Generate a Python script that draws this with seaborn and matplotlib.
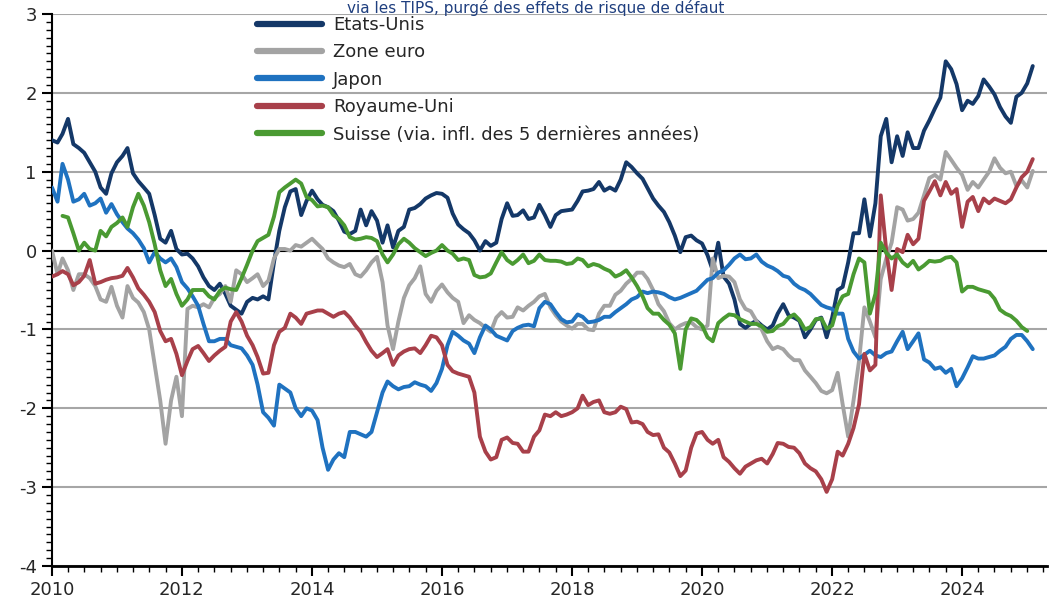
import numpy as np
import pandas as pd
import matplotlib
matplotlib.use('Agg')
import matplotlib.pyplot as plt
import matplotlib.dates as mdates
from matplotlib.ticker import MultipleLocator
import seaborn as sns

nan = np.nan

# monthly points, Jan 2010 -> Feb 2025
dates = pd.date_range('2010-01-01', periods=182, freq='MS')

etats_unis = [
    1.40, 1.37, 1.48, 1.67, 1.35, 1.30, 1.24, 1.12, 1.00, 0.80, 0.72, 0.98,
    1.12, 1.20, 1.30, 0.98, 0.88, 0.80, 0.72, 0.45, 0.15, 0.10, 0.25, 0.02,
    -0.05, -0.04, -0.10, -0.20, -0.34, -0.45, -0.50, -0.42, -0.55, -0.70, -0.75, -0.80,
    -0.65, -0.60, -0.62, -0.58, -0.62, -0.15, 0.25, 0.55, 0.75, 0.78, 0.45, 0.63,
    0.76, 0.65, 0.58, 0.55, 0.50, 0.38, 0.24, 0.21, 0.25, 0.52, 0.32, 0.50,
    0.38, 0.10, 0.32, 0.04, 0.25, 0.30, 0.52, 0.54, 0.59, 0.66, 0.70, 0.73,
    0.72, 0.67, 0.47, 0.33, 0.27, 0.22, 0.13, 0.00, 0.12, 0.06, 0.10, 0.40,
    0.60, 0.44, 0.45, 0.51, 0.40, 0.42, 0.58, 0.45, 0.30, 0.45, 0.50, 0.51,
    0.52, 0.63, 0.75, 0.76, 0.78, 0.87, 0.76, 0.80, 0.76, 0.90, 1.12, 1.06,
    0.98, 0.91, 0.79, 0.66, 0.57, 0.49, 0.36, 0.19, -0.02, 0.17, 0.19, 0.13,
    0.09, -0.06, -0.25, 0.10, -0.33, -0.42, -0.62, -0.93, -0.98, -0.93, -0.89, -0.95,
    -1.00, -0.95, -0.80, -0.68, -0.82, -0.85, -0.89, -1.10, -1.00, -0.88, -0.85, -1.10,
    -0.85, -0.50, -0.46, -0.15, 0.22, 0.22, 0.65, 0.18, 0.60, 1.45, 1.67, 1.12,
    1.45, 1.20, 1.50, 1.30, 1.30, 1.52, 1.65, 1.80, 1.94, 2.40, 2.30, 2.11,
    1.78, 1.90, 1.86, 1.96, 2.17, 2.08, 1.98, 1.82, 1.70, 1.62, 1.95, 2.00,
    2.12, 2.34,
]

zone_euro = [
    0.00, -0.30, -0.10, -0.25, -0.50, -0.30, -0.30, -0.35, -0.45, -0.62, -0.65, -0.46,
    -0.70, -0.85, -0.45, -0.60, -0.66, -0.78, -1.00, -1.45, -1.90, -2.45, -1.90, -1.60,
    -2.10, -0.74, -0.70, -0.72, -0.68, -0.72, -0.60, -0.55, -0.45, -0.65, -0.25, -0.30,
    -0.40, -0.35, -0.30, -0.45, -0.38, -0.10, 0.02, 0.02, 0.00, 0.07, 0.05, 0.10,
    0.15, 0.08, 0.02, -0.10, -0.15, -0.19, -0.21, -0.17, -0.30, -0.33, -0.25, -0.15,
    -0.08, -0.40, -0.95, -1.25, -0.90, -0.60, -0.44, -0.35, -0.20, -0.55, -0.65, -0.51,
    -0.43, -0.53, -0.60, -0.65, -0.92, -0.82, -0.88, -0.92, -0.98, -1.03, -0.85, -0.78,
    -0.85, -0.84, -0.72, -0.76, -0.70, -0.65, -0.58, -0.55, -0.72, -0.82, -0.90, -0.95,
    -0.99, -0.93, -0.93, -1.00, -1.01, -0.80, -0.70, -0.70, -0.56, -0.51, -0.42, -0.36,
    -0.28, -0.28, -0.36, -0.50, -0.68, -0.77, -0.92, -1.00, -0.95, -0.92, -0.91, -0.97,
    -1.00, -0.95, -0.10, -0.35, -0.32, -0.33, -0.40, -0.62, -0.74, -0.77, -0.89, -1.00,
    -1.15, -1.25, -1.22, -1.25, -1.33, -1.39, -1.39, -1.52, -1.60, -1.68, -1.78, -1.81,
    -1.77, -1.55, -1.95, -2.36, -1.90, -1.40, -0.72, -0.90, -1.10, -0.36, -0.10, 0.10,
    0.55, 0.52, 0.38, 0.40, 0.48, 0.70, 0.92, 0.96, 0.90, 1.25, 1.15, 1.05,
    0.96, 0.77, 0.87, 0.80, 0.90, 1.00, 1.17, 1.05, 0.98, 1.00, 0.82, 0.89,
    0.80, 1.01,
]

japon = [
    0.80, 0.62, 1.10, 0.90, 0.62, 0.65, 0.72, 0.57, 0.60, 0.66, 0.48, 0.59,
    0.46, 0.36, 0.28, 0.22, 0.14, 0.03, -0.15, -0.02, -0.10, -0.15, -0.10, -0.21,
    -0.40, -0.48, -0.58, -0.70, -0.93, -1.15, -1.15, -1.12, -1.12, -1.20, -1.22, -1.24,
    -1.33, -1.45, -1.70, -2.05, -2.12, -2.22, -1.70, -1.75, -1.80, -2.00, -2.10, -2.00,
    -2.03, -2.15, -2.50, -2.78, -2.65, -2.57, -2.62, -2.30, -2.30, -2.33, -2.36, -2.30,
    -2.05, -1.80, -1.66, -1.72, -1.76, -1.73, -1.72, -1.67, -1.70, -1.72, -1.78, -1.68,
    -1.50, -1.20, -1.03, -1.08, -1.14, -1.18, -1.30, -1.10, -0.95, -1.00, -1.08, -1.11,
    -1.14, -1.02, -0.98, -0.95, -0.94, -0.96, -0.73, -0.65, -0.68, -0.78, -0.87, -0.91,
    -0.90, -0.81, -0.84, -0.91, -0.90, -0.88, -0.84, -0.84, -0.78, -0.73, -0.68, -0.62,
    -0.59, -0.52, -0.54, -0.52, -0.53, -0.55, -0.59, -0.62, -0.60, -0.57, -0.54, -0.51,
    -0.44, -0.37, -0.35, -0.28, -0.25, -0.18, -0.10, -0.05, -0.11, -0.10, -0.05, -0.14,
    -0.19, -0.22, -0.26, -0.32, -0.34, -0.42, -0.47, -0.50, -0.55, -0.62, -0.69, -0.72,
    -0.74, -0.80, -0.80, -1.12, -1.28, -1.37, -1.32, -1.27, -1.33, -1.35, -1.30, -1.28,
    -1.15, -1.03, -1.25, -1.15, -1.05, -1.38, -1.42, -1.50, -1.48, -1.55, -1.50, -1.72,
    -1.62, -1.48, -1.34, -1.37, -1.37, -1.35, -1.33, -1.27, -1.22, -1.12, -1.07, -1.07,
    -1.15, -1.25,
]

royaume_uni = [
    -0.33, -0.30, -0.26, -0.30, -0.44, -0.40, -0.32, -0.12, -0.42, -0.40, -0.37, -0.35,
    -0.34, -0.32, -0.22, -0.34, -0.48, -0.56, -0.65, -0.78, -1.02, -1.15, -1.12, -1.31,
    -1.58, -1.40, -1.25, -1.21, -1.30, -1.40, -1.33, -1.27, -1.22, -0.90, -0.78, -0.90,
    -1.08, -1.20, -1.35, -1.56, -1.55, -1.20, -1.03, -0.98, -0.80, -0.85, -0.93, -0.80,
    -0.78, -0.76, -0.76, -0.80, -0.84, -0.80, -0.78, -0.85, -0.95, -1.03, -1.16, -1.27,
    -1.35, -1.30, -1.25, -1.45, -1.33, -1.28, -1.25, -1.24, -1.30, -1.20, -1.08, -1.10,
    -1.20, -1.45, -1.53, -1.56, -1.58, -1.60, -1.80, -2.36, -2.55, -2.65, -2.62, -2.40,
    -2.37, -2.44, -2.45, -2.55, -2.55, -2.36, -2.28, -2.08, -2.10, -2.05, -2.10, -2.08,
    -2.05, -2.00, -1.84, -1.96, -1.92, -1.90, -2.05, -2.07, -2.05, -1.98, -2.01, -2.18,
    -2.17, -2.20, -2.30, -2.34, -2.33, -2.50, -2.56, -2.70, -2.86, -2.79, -2.50, -2.32,
    -2.30, -2.40, -2.45, -2.40, -2.62, -2.68, -2.76, -2.83, -2.74, -2.70, -2.66, -2.64,
    -2.70, -2.58, -2.44, -2.45, -2.49, -2.50, -2.57, -2.70, -2.76, -2.80, -2.90, -3.06,
    -2.90, -2.55, -2.60, -2.45, -2.25, -1.95, -1.31, -1.52, -1.45, 0.70, 0.00, -0.50,
    0.02, -0.02, 0.20, 0.08, 0.15, 0.63, 0.75, 0.88, 0.70, 0.87, 0.72, 0.78,
    0.30, 0.62, 0.68, 0.50, 0.66, 0.60, 0.66, 0.63, 0.60, 0.65, 0.80, 0.93,
    1.00, 1.16,
]

suisse = [
    nan, nan, 0.44, 0.42, 0.22, 0.00, 0.10, 0.02, 0.00, 0.25, 0.18, 0.30,
    0.35, 0.42, 0.30, 0.55, 0.72, 0.57, 0.36, 0.08, -0.25, -0.45, -0.36, -0.55,
    -0.70, -0.62, -0.50, -0.50, -0.50, -0.58, -0.62, -0.51, -0.47, -0.49, -0.50, -0.35,
    -0.18, 0.00, 0.12, 0.16, 0.20, 0.43, 0.74, 0.80, 0.85, 0.90, 0.85, 0.68,
    0.64, 0.56, 0.57, 0.55, 0.45, 0.40, 0.32, 0.17, 0.14, 0.15, 0.17, 0.16,
    0.12, -0.05, -0.15, -0.05, 0.08, 0.15, 0.10, 0.03, -0.02, -0.07, -0.03, 0.00,
    0.07, 0.00, -0.04, -0.12, -0.10, -0.12, -0.31, -0.34, -0.33, -0.29, -0.15, -0.02,
    -0.12, -0.17, -0.12, -0.05, -0.16, -0.13, -0.05, -0.12, -0.13, -0.13, -0.14, -0.17,
    -0.16, -0.10, -0.12, -0.20, -0.17, -0.19, -0.23, -0.26, -0.33, -0.30, -0.25, -0.34,
    -0.45, -0.58, -0.73, -0.80, -0.80, -0.88, -0.94, -1.05, -1.50, -1.00, -0.86, -0.88,
    -0.95, -1.10, -1.15, -0.92, -0.86, -0.81, -0.82, -0.87, -0.90, -0.93, -0.93, -0.96,
    -1.03, -1.02, -0.96, -0.93, -0.85, -0.81, -0.88, -1.00, -0.97, -0.87, -0.86, -0.99,
    -0.95, -0.70, -0.58, -0.55, -0.30, -0.10, -0.15, -0.80, -0.55, 0.10, -0.03, -0.10,
    -0.05, -0.15, -0.20, -0.13, -0.24, -0.19, -0.13, -0.14, -0.13, -0.09, -0.08, -0.15,
    -0.52, -0.46, -0.46, -0.49, -0.51, -0.53, -0.61, -0.75, -0.80, -0.83, -0.89, -0.97,
    -1.02, nan,
]

series = {
    'Etats-Unis': etats_unis,
    'Zone euro': zone_euro,
    'Japon': japon,
    'Royaume-Uni': royaume_uni,
    'Suisse (via. infl. des 5 dernières années)': suisse,
}
colors = {
    'Etats-Unis': '#143868',
    'Zone euro': '#a3a3a3',
    'Japon': '#1f72c0',
    'Royaume-Uni': '#a8404a',
    'Suisse (via. infl. des 5 dernières années)': '#4a9a32',
}

frames = []
for name, vals in series.items():
    frames.append(pd.DataFrame({'date': dates, 'valeur': vals, 'serie': name}))
df = pd.concat(frames, ignore_index=True).dropna()

sns.set_style('white')
plt.rcParams['font.family'] = ['DejaVu Sans']
plt.rcParams['axes.unicode_minus'] = False

fig = plt.figure(figsize=(10.49, 5.98), dpi=100)
ax = fig.add_axes([52 / 1049, 32 / 598, (1047 - 52) / 1049, (566 - 14) / 598])

sns.lineplot(
    data=df, x='date', y='valeur', hue='serie', hue_order=list(series),
    palette=colors, linewidth=2.8, estimator=None, ax=ax, zorder=3,
)

ax.set_ylim(-4, 3)
ax.set_xlim(pd.Timestamp('2010-01-01'), pd.Timestamp('2025-04-22'))
ax.set_xlabel('')
ax.set_ylabel('')

ax.yaxis.set_major_locator(MultipleLocator(1))
ax.yaxis.set_minor_locator(MultipleLocator(0.1))
ax.xaxis.set_major_locator(mdates.YearLocator(2))
ax.xaxis.set_major_formatter(mdates.DateFormatter('%Y'))
ax.xaxis.set_minor_locator(mdates.MonthLocator(bymonth=[1, 4, 7, 10]))

ax.yaxis.grid(True, which='major', color='#a6a6a6', linewidth=1.5)
ax.axhline(0, color='black', linewidth=1.5, zorder=2)
ax.set_axisbelow(True)

for side in ['top', 'right']:
    ax.spines[side].set_visible(False)
ax.spines['left'].set_color('black')
ax.spines['left'].set_linewidth(1.5)
ax.spines['bottom'].set_color('black')
ax.spines['bottom'].set_linewidth(2)

ax.tick_params(which='major', direction='out', length=7, width=1.5,
               labelsize=13, labelcolor='#262626', color='black', pad=4,
               left=True, bottom=True)
ax.tick_params(which='minor', direction='out', length=4, width=1,
               color='black', left=True, bottom=True)

handles, labels = ax.get_legend_handles_labels()
leg = ax.legend(
    handles, labels, loc='upper left',
    bbox_to_anchor=(257 / 1049, 1 - 16 / 598), bbox_transform=fig.transFigure,
    frameon=False, fontsize=13, handlelength=3.6, handletextpad=0.6,
    labelspacing=0.52, borderpad=0, borderaxespad=0,
)
for line in leg.get_lines():
    line.set_linewidth(4.5)
for text in leg.get_texts():
    text.set_color('#262626')

# title line sits right at the top edge, above the legend
fig.text(536 / 1049, 1.0,
         'via les TIPS, purgé des effets de risque de défaut',
         ha='center', va='top', fontsize=11, color='#1f3f7f')

fig.savefig('out.png', dpi=100)
